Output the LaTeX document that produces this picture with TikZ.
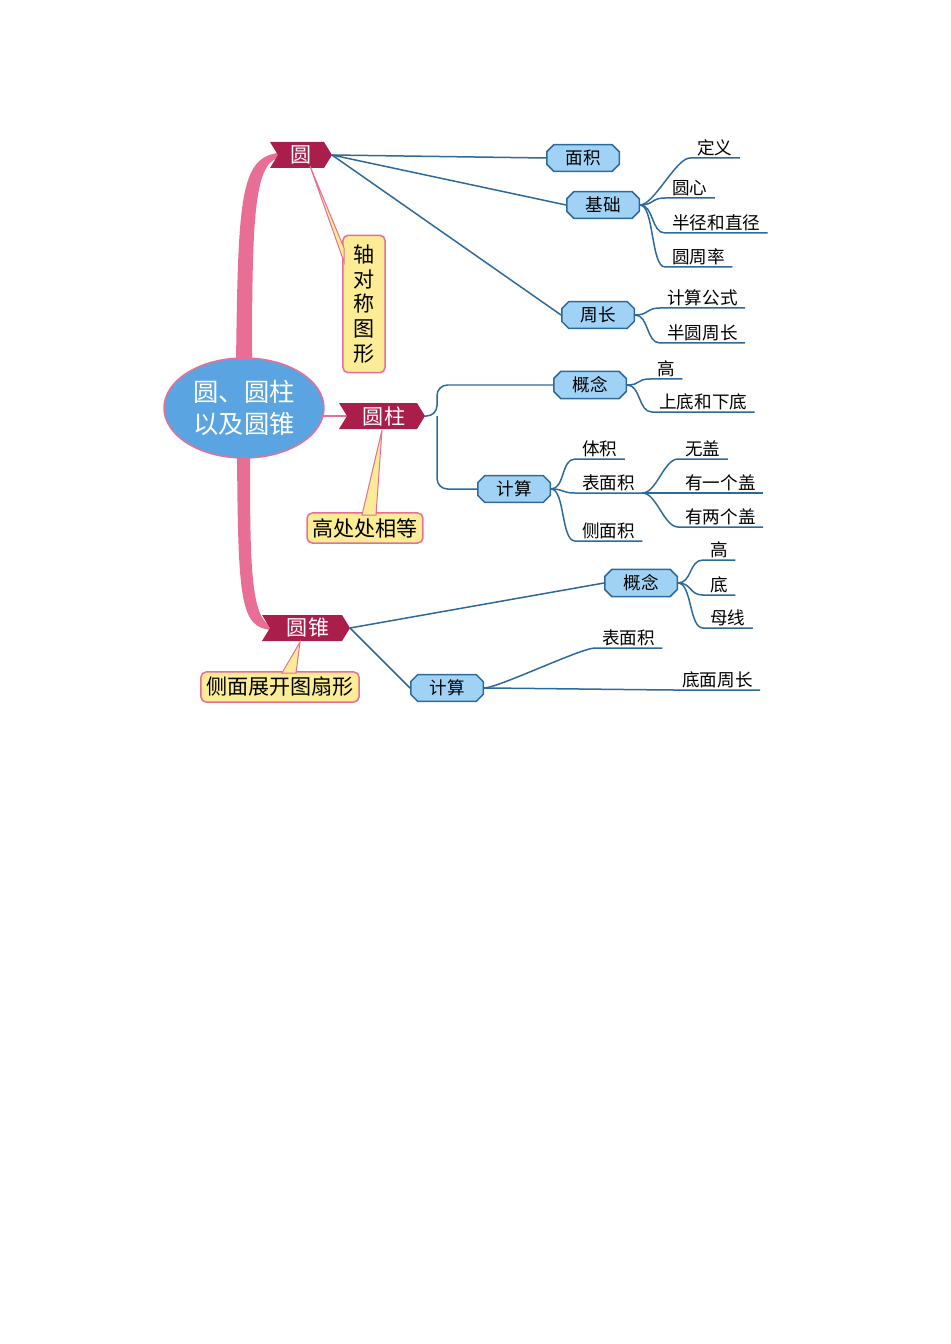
\documentclass[tikz,border=0pt]{standalone}
\usepackage{fontspec}
\setmainfont{Noto Sans CJK SC}
\usetikzlibrary{shapes.misc,shapes.geometric,calc}
\definecolor{mapblue}{RGB}{90,165,225}
\definecolor{boxblue}{RGB}{160,210,245}
\definecolor{linkblue}{RGB}{45,105,155}
\definecolor{crimson}{RGB}{170,30,75}
\definecolor{mappink}{RGB}{232,110,150}
\definecolor{noteyellow}{RGB}{252,236,150}
\tikzstyle{subbox}=[chamfered rectangle,chamfered rectangle xsep=2cm,chamfered rectangle sep=2pt,draw=linkblue,fill=boxblue,line width=0.3mm,minimum width=1.45cm,minimum height=0.45cm,inner sep=1pt]
\tikzstyle{leaf}=[anchor=south west,inner xsep=4pt,inner ysep=1pt]
\tikzstyle{link}=[draw=linkblue,line width=0.3mm]
\tikzstyle{note}=[draw=mappink,fill=noteyellow,rounded corners=3pt,line width=0.3mm,inner sep=3pt]
\newcommand{\banner}[4]{% name, center x, center y, half width
  \fill[crimson] ($(#2,#3)+(-#4,13)$) -- ($(#2,#3)+(#4-8,13)$) -- ($(#2,#3)+(#4,0)$) -- ($(#2,#3)+(#4-8,-13)$) -- ($(#2,#3)+(-#4,-13)$) -- ($(#2,#3)+(-#4+8,0)$) -- cycle;
  \coordinate (#1w) at ($(#2,#3)+(-#4+8,0)$);
  \coordinate (#1e) at ($(#2,#3)+(#4,0)$);}
\begin{document}
\begin{tikzpicture}[x=0.02cm,y=-0.02cm]
  \useasboundingbox (0,0) rectangle (950,1344);
  % trunk
  \fill[mappink] (236,365) .. controls (238,200) and (240,158) .. (278,153) -- (278,158) .. controls (254,165) and (252,220) .. (252,365) -- cycle;
  \fill[mappink] (237,450) .. controls (238,600) and (240,628) .. (272,630) -- (272,626) .. controls (250,620) and (250,560) .. (250,450) -- cycle;
  \draw[mappink,line width=0.4mm] (320,416) -- (348,416);
  \node[ellipse,fill=mapblue,draw=mappink,line width=0.3mm,minimum width=3.2cm,minimum height=2cm,text=white,align=center,font=\Large] (root) at (244,408) {圆、圆柱\\以及圆锥};
  % branches
  \banner{yuan}{301}{155}{31}
  \banner{zhu}{382}{416}{43}
  \banner{zhui}{306}{628}{44}
  \node[text=white,font=\large] at (301,155) {圆};
  \node[text=white,font=\large] at (384,416) {圆柱};
  \node[text=white,font=\large] at (308,628) {圆锥};
  % notes
  \node[note,align=center,minimum height=2.75cm,inner xsep=6pt,font=\large] (n1) at (364,304) {轴\\对\\称\\图\\形};
  \node[note,font=\large] (n2) at (365,528) {高处处相等};
  \node[note,font=\large] (n3) at (280,687) {侧面展开图扇形};
  \fill[noteyellow,draw=mappink,line width=0.2mm] (310,166) -- (344,262) -- (344,248) -- cycle;
  \fill[noteyellow,draw=mappink,line width=0.2mm] (382,430) -- (362,515) -- (376,515) -- cycle;
  \fill[noteyellow,draw=mappink,line width=0.2mm] (300,642) -- (282,673) -- (296,673) -- cycle;
  % blue boxes
  \node[subbox] (mj) at (583,158) {面积};
  \node[subbox] (jc) at (603,205) {基础};
  \node[subbox] (zc) at (598,315) {周长};
  \node[subbox] (gn1) at (590,385) {概念};
  \node[subbox] (js1) at (514,489) {计算};
  \node[subbox] (gn2) at (641,583) {概念};
  \node[subbox] (js2) at (447,688) {计算};
  \draw[link] (yuane) -- (mj.west);
  \draw[link] (yuane) -- (jc.west);
  \draw[link] (yuane) -- (zc.west);
  \draw[link,rounded corners=6pt] (zhue) -- (437,416) |- (gn1.west);
  \draw[link,rounded corners=6pt] (437,416) |- (js1.west);
  \draw[link] (zhuie) -- (gn2.west);
  \draw[link] (zhuie) -- (js2.west);
  % leaves
  \foreach \name/\parent/\x/\y/\txt in {
      a1/jc/690/158/定义, a2/jc/665/198/圆心, a3/jc/665/233/半径和直径, a4/jc/665/267/圆周率,
      b1/zc/660/308/计算公式, b2/zc/660/343/半圆周长,
      c1/gn1/650/379/高, c2/gn1/652/412/上底和下底,
      d1/js1/575/459/体积, d2/js1/575/493/表面积, d3/js1/575/541/侧面积,
      f1/gn2/703/560/高, f2/gn2/703/595/底, f3/gn2/703/628/母线,
      g1/js2/595/648/表面积, g2/js2/675/690/底面周长} {
    \node[leaf] (\name) at (\x,\y) {\txt};
    \draw[link] (\parent.east) .. controls +(14,0) and +(-14,0) .. (\name.south west) -- (\name.south east);
  }
  \foreach \name/\x/\y/\txt in {e1/678/459/无盖, e2/678/493/有一个盖, e3/678/527/有两个盖} {
    \node[leaf] (\name) at (\x,\y) {\txt};
    \draw[link] (d2.south east) .. controls +(14,0) and +(-14,0) .. (\name.south west) -- (\name.south east);
  }
\end{tikzpicture}
\end{document}
